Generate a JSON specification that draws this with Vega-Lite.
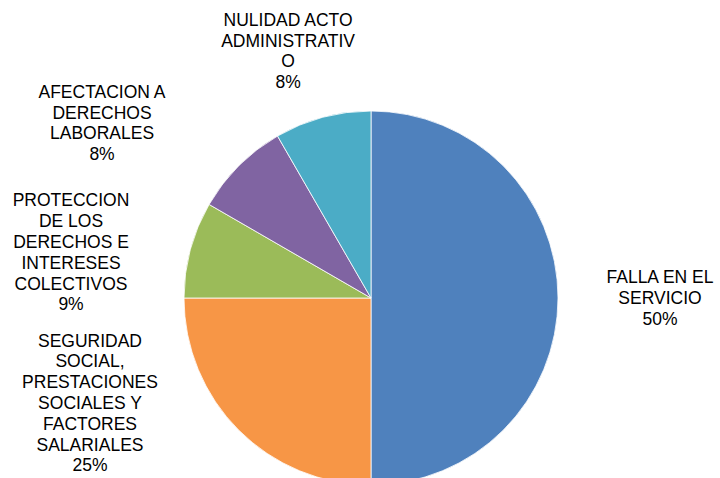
{
  "$schema": "https://vega.github.io/schema/vega-lite/v6.json",
  "width": 698,
  "height": 360,
  "padding": {"left": 22, "top": 118, "right": 0, "bottom": 0},
  "autosize": {"type": "none"},
  "background": "white",
  "config": {"view": {"stroke": null}},
  "data": {
    "values": [
      {"order": 1, "category": "FALLA EN EL SERVICIO", "value": 50, "label": "FALLA EN EL\nSERVICIO\n50%"},
      {"order": 2, "category": "SEGURIDAD SOCIAL, PRESTACIONES SOCIALES Y FACTORES SALARIALES", "value": 25, "label": "SEGURIDAD\nSOCIAL,\nPRESTACIONES\nSOCIALES Y\nFACTORES\nSALARIALES\n25%"},
      {"order": 3, "category": "PROTECCION DE LOS DERECHOS E INTERESES COLECTIVOS", "value": 8.34, "label": "PROTECCION\nDE LOS\nDERECHOS E\nINTERESES\nCOLECTIVOS\n9%"},
      {"order": 4, "category": "AFECTACION A DERECHOS LABORALES", "value": 8.33, "label": "AFECTACION A\nDERECHOS\nLABORALES\n8%"},
      {"order": 5, "category": "NULIDAD ACTO ADMINISTRATIVO", "value": 8.33, "label": "NULIDAD ACTO\nADMINISTRATIV\nO\n8%"}
    ]
  },
  "encoding": {
    "theta": {"field": "value", "type": "quantitative", "stack": true},
    "order": {"field": "order", "type": "quantitative"}
  },
  "layer": [
    {
      "mark": {"type": "arc", "outerRadius": 187, "stroke": "white", "strokeWidth": 0.8},
      "encoding": {
        "color": {
          "field": "category",
          "type": "nominal",
          "scale": {
            "domain": ["FALLA EN EL SERVICIO", "SEGURIDAD SOCIAL, PRESTACIONES SOCIALES Y FACTORES SALARIALES", "PROTECCION DE LOS DERECHOS E INTERESES COLECTIVOS", "AFECTACION A DERECHOS LABORALES", "NULIDAD ACTO ADMINISTRATIVO"],
            "range": ["#4F81BD", "#F79646", "#9BBB59", "#8064A2", "#4BACC6"]
          },
          "legend": null
        }
      }
    },
    {
      "mark": {"type": "text", "radius": 200, "dx": 89, "dy": -19.8, "lineBreak": "\n", "font": "Liberation Sans", "fontSize": 17.5, "lineHeight": 20.8, "align": "center", "baseline": "middle", "color": "#000000"},
      "encoding": {"text": {"condition": {"test": "datum.order === 1", "field": "label"}, "value": ""}}
    },
    {
      "mark": {"type": "text", "radius": 200, "dx": -139.6, "dy": -97.8, "lineBreak": "\n", "font": "Liberation Sans", "fontSize": 17.5, "lineHeight": 20.8, "align": "center", "baseline": "middle", "color": "#000000"},
      "encoding": {"text": {"condition": {"test": "datum.order === 2", "field": "label"}, "value": ""}}
    },
    {
      "mark": {"type": "text", "radius": 200, "dx": -106.8, "dy": -44.7, "lineBreak": "\n", "font": "Liberation Sans", "fontSize": 17.5, "lineHeight": 20.8, "align": "center", "baseline": "middle", "color": "#000000"},
      "encoding": {"text": {"condition": {"test": "datum.order === 3", "field": "label"}, "value": ""}}
    },
    {
      "mark": {"type": "text", "radius": 200, "dx": -127.6, "dy": -63.8, "lineBreak": "\n", "font": "Liberation Sans", "fontSize": 17.5, "lineHeight": 20.8, "align": "center", "baseline": "middle", "color": "#000000"},
      "encoding": {"text": {"condition": {"test": "datum.order === 4", "field": "label"}, "value": ""}}
    },
    {
      "mark": {"type": "text", "radius": 200, "dx": -31.2, "dy": -84, "lineBreak": "\n", "font": "Liberation Sans", "fontSize": 17.5, "lineHeight": 20.8, "align": "center", "baseline": "middle", "color": "#000000"},
      "encoding": {"text": {"condition": {"test": "datum.order === 5", "field": "label"}, "value": ""}}
    }
  ]
}
